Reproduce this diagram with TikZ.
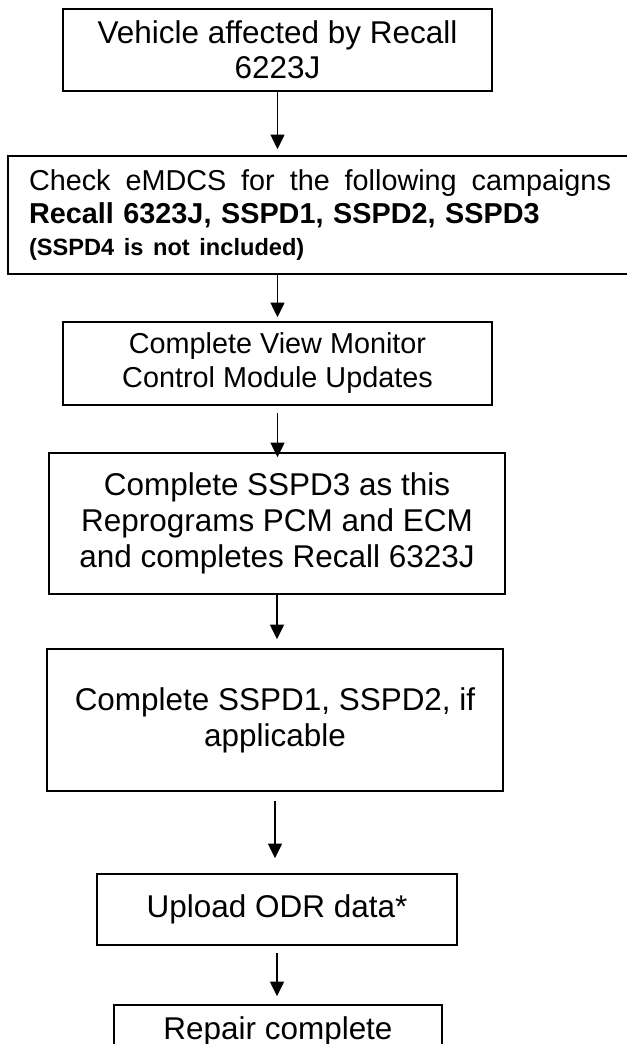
\documentclass[tikz,border=0pt]{standalone}
\usepackage{fontspec}
\setmainfont{Liberation Sans}
\usetikzlibrary{arrows.meta}
\begin{document}
\begin{tikzpicture}[x=0.75pt,y=-0.75pt,
    box/.style={draw,line width=1.2pt,inner sep=0pt,align=center,
      font=\fontsize{23.6}{26.5}\selectfont},
    flow/.style={line width=1.2pt,-{Triangle[length=11pt,width=10.5pt]}}]
      \useasboundingbox (0,0) rectangle (627,1044);
      \draw
        (277.5,50) node[box,minimum width=321.75pt,minimum height=61.5pt] (0){Vehicle affected by Recall\\6223J}
        (324,215) node[box,minimum width=474pt,minimum height=88.5pt,inner xsep=15.75pt,
          text width=442.5pt,align=left,font=\fontsize{21.6}{24.75}\selectfont] (1){\hbox to 436.5pt{Check\hfill eMDCS\hfill for\hfill the\hfill following\hfill campaigns}\\
          \textbf{Recall 6323J, SSPD1, SSPD2, SSPD3}\\[-1pt]
          {\fontsize{17.7}{21}\selectfont\bfseries (SSPD4 is not included)}}
        (277.5,363.5) node[box,minimum width=321.75pt,minimum height=62.25pt,
          font=\fontsize{21.6}{25.5}\selectfont] (2){Complete View Monitor\\Control Module Updates}
        (277,523.5) node[box,minimum width=342pt,minimum height=105.75pt,
          font=\fontsize{23.6}{27}\selectfont] (3){Complete SSPD3 as this\\Reprograms PCM and ECM\\and completes Recall 6323J}
        (275,720) node[box,minimum width=342pt,minimum height=106.5pt,
          font=\fontsize{23.6}{27}\selectfont] (4){Complete SSPD1, SSPD2, if\\applicable}
        (277,909.5) node[box,minimum width=270pt,minimum height=53.25pt] (5){Upload ODR data*}
        (278,1031) node[box,minimum width=246pt,minimum height=39pt] (6){Repair complete};
      \begin{scope}[flow]
        \draw[shorten >=4.5pt] (0) to (0.south |- 1.north);
        \draw[shorten >=3pt] (1.south -| 2.north) to (2);
        \draw[shorten <=5.25pt,shorten >=-3.75pt] (2) to (2.south |- 3.north);
        \draw[shorten >=6.75pt] (3) to (3.south |- 4.north);
        \draw[shorten <=6.75pt,shorten >=11.25pt] (4) to (4.south |- 5.north);
        \draw[shorten <=5.25pt,shorten >=6pt] (5) to (5.south |- 6.north);
      \end{scope}
    \end{tikzpicture}
\end{document}
